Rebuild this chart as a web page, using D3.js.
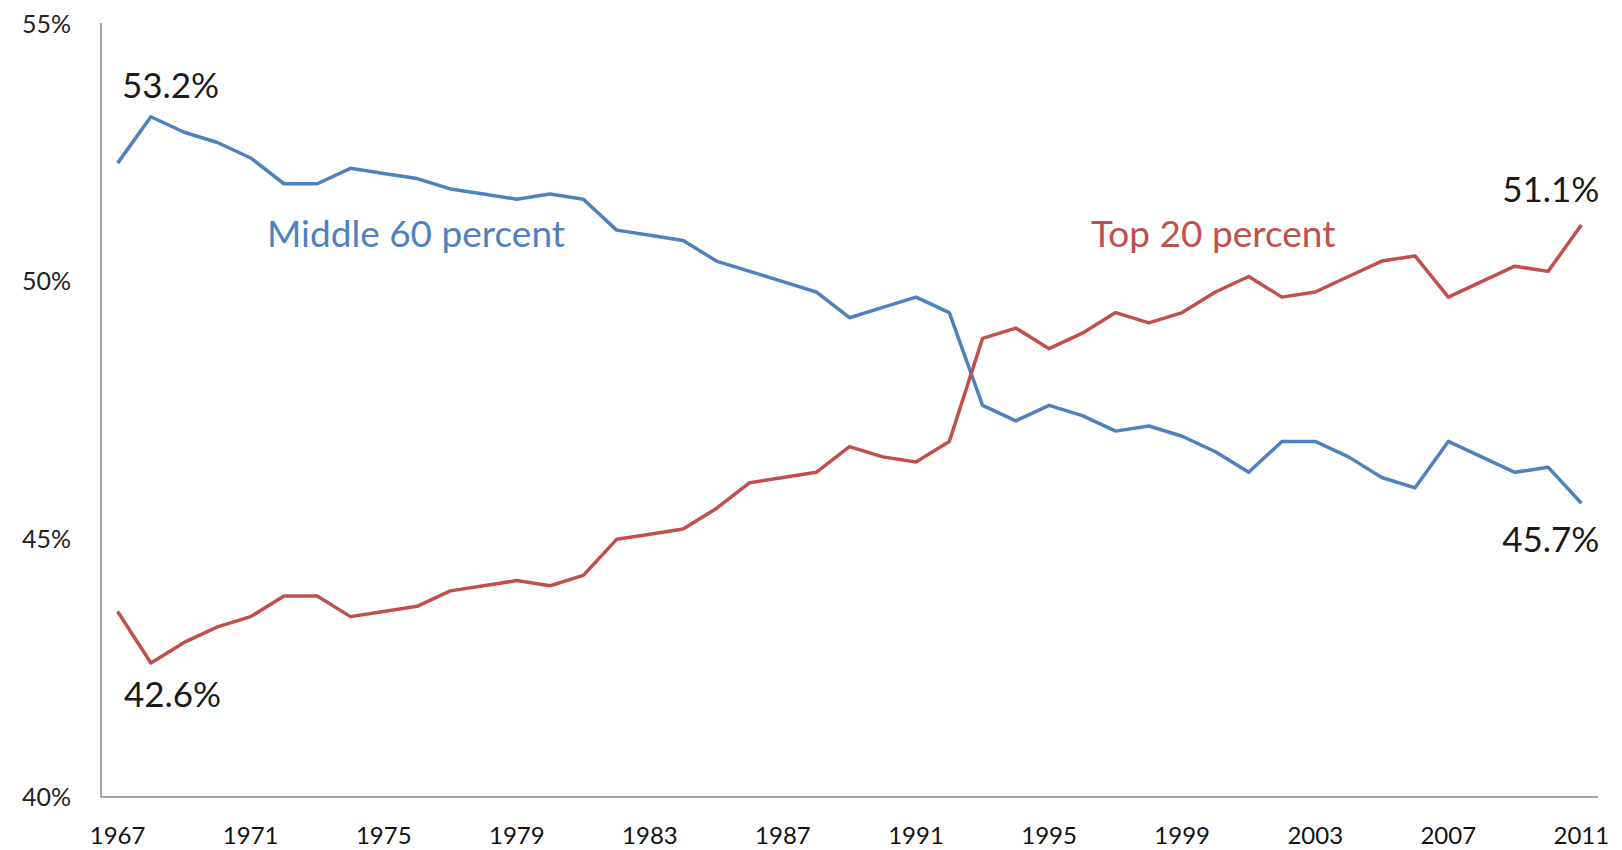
<!DOCTYPE html>
<html lang="en">
<head>
    <meta charset="UTF-8">
    <title>Income shares</title>
    <script src="https://cdn.jsdelivr.net/npm/d3@7/dist/d3.min.js"></script>
    <style>
        html, body { margin: 0; padding: 0; background: #fff; }
        svg { display: block; font-family: Lato, "Open Sans", sans-serif; }
    </style>
</head>
<body>
<svg id="chart" width="1622" height="850"></svg>
<script>
    // years 1967 - 2011
    let years = d3.range(1967, 2012);
    let middle60 = [52.3, 53.2, 52.9, 52.7, 52.4, 51.9, 51.9, 52.2, 52.1, 52.0,
        51.8, 51.7, 51.6, 51.7, 51.6, 51.0, 50.9, 50.8, 50.4, 50.2,
        50.0, 49.8, 49.3, 49.5, 49.7, 49.4, 47.6, 47.3, 47.6, 47.4,
        47.1, 47.2, 47.0, 46.7, 46.3, 46.9, 46.9, 46.6, 46.2, 46.0,
        46.9, 46.6, 46.3, 46.4, 45.7];
    let top20 = [43.6, 42.6, 43.0, 43.3, 43.5, 43.9, 43.9, 43.5, 43.6, 43.7,
        44.0, 44.1, 44.2, 44.1, 44.3, 45.0, 45.1, 45.2, 45.6, 46.1,
        46.2, 46.3, 46.8, 46.6, 46.5, 46.9, 48.9, 49.1, 48.7, 49.0,
        49.4, 49.2, 49.4, 49.8, 50.1, 49.7, 49.8, 50.1, 50.4, 50.5,
        49.7, 50.0, 50.3, 50.2, 51.1];
    let yTicks = [40, 45, 50, 55];
    let xTicks = d3.range(1967, 2012, 4);

    let svg = d3.select('#chart');

    let x = d3.scaleLinear().domain([1966.5, 2011.5]).range([101, 1598]);
    let y = d3.scaleLinear().domain([40, 55]).range([797, 24]);

    // axes lines
    svg.append('line')
        .attr('x1', x(1966.5)).attr('x2', x(1966.5))
        .attr('y1', y(55) - 1).attr('y2', y(40))
        .attr('stroke', '#868686').attr('stroke-width', 1.5);
    svg.append('line')
        .attr('x1', x(1966.5)).attr('x2', x(2011.5))
        .attr('y1', y(40)).attr('y2', y(40))
        .attr('stroke', '#868686').attr('stroke-width', 1.5);

    svg.selectAll('text.ytick').data(yTicks).enter()
        .append('text')
        .attr('class', 'ytick')
        .attr('x', 71)
        .attr('y', d => y(d))
        .attr('dy', '0.35em')
        .attr('text-anchor', 'end')
        .attr('font-size', 25)
        .attr('fill', '#222')
        .text(d => d + '%');

    svg.selectAll('text.xtick').data(xTicks).enter()
        .append('text')
        .attr('class', 'xtick')
        .attr('x', d => x(d))
        .attr('y', 844)
        .attr('text-anchor', 'middle')
        .attr('font-size', 24)
        .attr('fill', '#111')
        .text(d => d);

    let line = d3.line()
        .x((d, i) => x(years[i]))
        .y(d => y(d));

    svg.append('path')
        .datum(middle60)
        .attr('d', line)
        .attr('fill', 'none')
        .attr('stroke', '#4F81BD')
        .attr('stroke-width', 3.5)
        .attr('stroke-linejoin', 'round');

    svg.append('path')
        .datum(top20)
        .attr('d', line)
        .attr('fill', 'none')
        .attr('stroke', '#C0504D')
        .attr('stroke-width', 3.5)
        .attr('stroke-linejoin', 'round');

    // series names
    svg.append('text')
        .attr('x', 267).attr('y', 247)
        .attr('font-size', 37)
        .attr('fill', '#4F81BD')
        .text('Middle 60 percent');
    svg.append('text')
        .attr('x', 1091).attr('y', 247)
        .attr('font-size', 37)
        .attr('fill', '#C0504D')
        .text('Top 20 percent');

    // value callouts
    let last = years.length - 1;
    let callouts = [
        {v: middle60[1], i: 1, dx: -29, dy: -19, anchor: 'start'},
        {v: top20[1], i: 1, dx: -27, dy: 44, anchor: 'start'},
        {v: top20[last], i: last, dx: 18, dy: -23, anchor: 'end'},
        {v: middle60[last], i: last, dx: 18, dy: 49, anchor: 'end'}
    ];
    svg.selectAll('text.callout').data(callouts).enter()
        .append('text')
        .attr('class', 'callout')
        .attr('x', d => x(years[d.i]) + d.dx)
        .attr('y', d => y(d.v) + d.dy)
        .attr('text-anchor', d => d.anchor)
        .attr('font-size', 35)
        .attr('fill', '#1a1a1a')
        .text(d => d.v.toFixed(1) + '%');
</script>
</body>
</html>
